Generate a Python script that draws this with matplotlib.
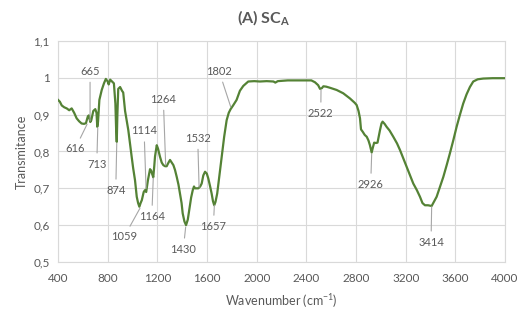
import matplotlib.pyplot as plt

# spectrum
wavenumber = [
    400, 415, 430, 450, 470, 490, 510, 530, 550, 570, 590, 610, 625, 640, 648,
    660, 668, 684, 700, 710, 716, 722, 733, 752, 770, 785, 800, 808, 820, 835,
    850, 862, 868, 873, 878, 885, 900, 915, 925, 940, 955, 966, 980, 993, 1005,
    1020, 1034, 1045, 1055, 1065, 1075, 1090, 1100, 1110, 1124, 1141, 1150,
    1157, 1167, 1175, 1181, 1195, 1205, 1221, 1235, 1248, 1262, 1275, 1290,
    1302, 1315, 1329, 1342, 1356, 1370, 1382, 1395, 1404, 1418, 1431, 1445,
    1457, 1472, 1485, 1495, 1503, 1515, 1530, 1545, 1557, 1570, 1584, 1598,
    1610, 1625, 1637, 1648, 1658, 1668, 1682, 1700, 1718, 1738, 1758, 1775,
    1790, 1810, 1838, 1865, 1892, 1932, 1980, 2026, 2080, 2135, 2150, 2170,
    2250, 2350, 2440, 2469, 2495, 2510, 2525, 2537, 2560, 2590, 2644, 2697,
    2751, 2790, 2805, 2820, 2832, 2840, 2853, 2870, 2886, 2900, 2912, 2926,
    2935, 2946, 2960, 2973, 2985, 2993, 3005, 3014, 3030, 3046, 3070, 3100,
    3130, 3154, 3180, 3208, 3235, 3261, 3290, 3315, 3335, 3355, 3380, 3409,
    3430, 3449, 3475, 3503, 3530, 3556, 3583, 3610, 3637, 3663, 3690, 3717,
    3744, 3780, 3824, 3900, 4000,
]
transmitance = [
    0.940, 0.935, 0.925, 0.920, 0.917, 0.912, 0.917, 0.905, 0.890, 0.882,
    0.876, 0.875, 0.877, 0.895, 0.898, 0.880, 0.885, 0.910, 0.915, 0.905,
    0.867, 0.880, 0.940, 0.967, 0.985, 0.997, 0.990, 0.982, 0.995, 0.990,
    0.985, 0.930, 0.860, 0.826, 0.900, 0.970, 0.975, 0.965, 0.960, 0.910,
    0.880, 0.858, 0.820, 0.786, 0.755, 0.722, 0.677, 0.660, 0.650, 0.660,
    0.668, 0.690, 0.695, 0.690, 0.722, 0.752, 0.748, 0.740, 0.730, 0.760,
    0.786, 0.817, 0.808, 0.786, 0.770, 0.763, 0.760, 0.760, 0.770, 0.777,
    0.770, 0.763, 0.750, 0.731, 0.710, 0.686, 0.660, 0.632, 0.610, 0.600,
    0.615, 0.641, 0.675, 0.695, 0.705, 0.700, 0.700, 0.700, 0.705, 0.713,
    0.735, 0.745, 0.740, 0.727, 0.705, 0.686, 0.665, 0.654, 0.663, 0.686,
    0.735, 0.786, 0.840, 0.885, 0.905, 0.915, 0.925, 0.940, 0.965, 0.978,
    0.990, 0.991, 0.990, 0.991, 0.990, 0.987, 0.991, 0.993, 0.993, 0.993,
    0.988, 0.980, 0.970, 0.972, 0.977, 0.976, 0.973, 0.967, 0.958, 0.944,
    0.932, 0.926, 0.910, 0.890, 0.860, 0.854, 0.845, 0.840, 0.830, 0.817,
    0.797, 0.810, 0.824, 0.823, 0.824, 0.845, 0.858, 0.876, 0.881, 0.875,
    0.867, 0.857, 0.840, 0.822, 0.804, 0.782, 0.758, 0.735, 0.713, 0.695,
    0.677, 0.660, 0.654, 0.654, 0.652, 0.665, 0.677, 0.703, 0.731, 0.763,
    0.795, 0.830, 0.867, 0.900, 0.930, 0.955, 0.975, 0.990, 0.996, 0.998,
    0.999, 0.999,
]

# peak labels: (label, peak point, text position)
peak_labels = ["616", "665", "713", "874", "1059", "1114", "1164", "1264",
               "1430", "1532", "1657", "1802", "2522", "2926", "3414"]
peak_tips = [(634, 0.874), (658, 0.883), (720, 0.864), (873, 0.823),
             (1060, 0.646), (1109, 0.700), (1167, 0.728), (1267, 0.763),
             (1428, 0.595), (1536, 0.703), (1659, 0.654), (1791, 0.921),
             (2518, 0.967), (2926, 0.793), (3409, 0.650)]
label_pos = [(537, 0.807), (658, 1.018), (712, 0.766), (865, 0.695),
             (932, 0.568), (1093, 0.856), (1155, 0.624), (1248, 0.942),
             (1409, 0.535), (1525, 0.836), (1651, 0.597), (1697, 1.018),
             (2516, 0.904), (2918, 0.711), (3404, 0.554)]

x_ticks = [400, 800, 1200, 1600, 2000, 2400, 2800, 3200, 3600, 4000]
y_ticks = [0.5, 0.6, 0.7, 0.8, 0.9, 1.0, 1.1]
y_tick_labels = ["0,5", "0,6", "0,7", "0,8", "0,9", "1", "1,1"]

plt.rcParams['font.family'] = ['Lato', 'DejaVu Sans']
plt.rcParams['mathtext.fontset'] = 'custom'
plt.rcParams['mathtext.rm'] = 'Lato'
plt.rcParams['mathtext.bf'] = 'Lato:bold'
text_col = '#595959'
grid_col = '#d9d9d9'

fig = plt.figure(figsize=(5.19, 3.11), dpi=100)
ax = fig.add_axes([0.1118, 0.1576, 0.8613, 0.7106])

ax.plot(wavenumber, transmitance, color='#548235', lw=1.6, zorder=3)

for lab, tip, pos in zip(peak_labels, peak_tips, label_pos):
    ax.annotate(lab, xy=tip, xytext=pos, ha='center', va='center',
                fontsize=8, color=text_col,
                arrowprops=dict(arrowstyle='-', color='#a6a6a6', lw=0.8,
                                shrinkA=2, shrinkB=0))

ax.set_xlim(400, 4000)
ax.set_ylim(0.5, 1.1)
ax.set_xticks(x_ticks)
ax.set_yticks(y_ticks)
ax.set_yticklabels(y_tick_labels)
ax.tick_params(length=0, labelsize=8.5, labelcolor=text_col)
ax.tick_params(axis='x', pad=8)
ax.tick_params(axis='y', pad=6)
ax.grid(True, color=grid_col, lw=0.8)
ax.set_axisbelow(True)
for s in ax.spines.values():
    s.set_color(grid_col)
    s.set_linewidth(0.8)

ax.set_xlabel('Wavenumber (cm$^{\\mathrm{-1}}$)', fontsize=9, color=text_col, labelpad=6)
ax.set_ylabel('Transmitance', fontsize=9, color=text_col, labelpad=4)
fig.text(0.507, 0.94, r'(A) SC$_\mathbf{A}$', ha='center', va='center',
         fontsize=11.5, fontweight='bold', color=text_col)

fig.savefig('out.png', dpi=100)
